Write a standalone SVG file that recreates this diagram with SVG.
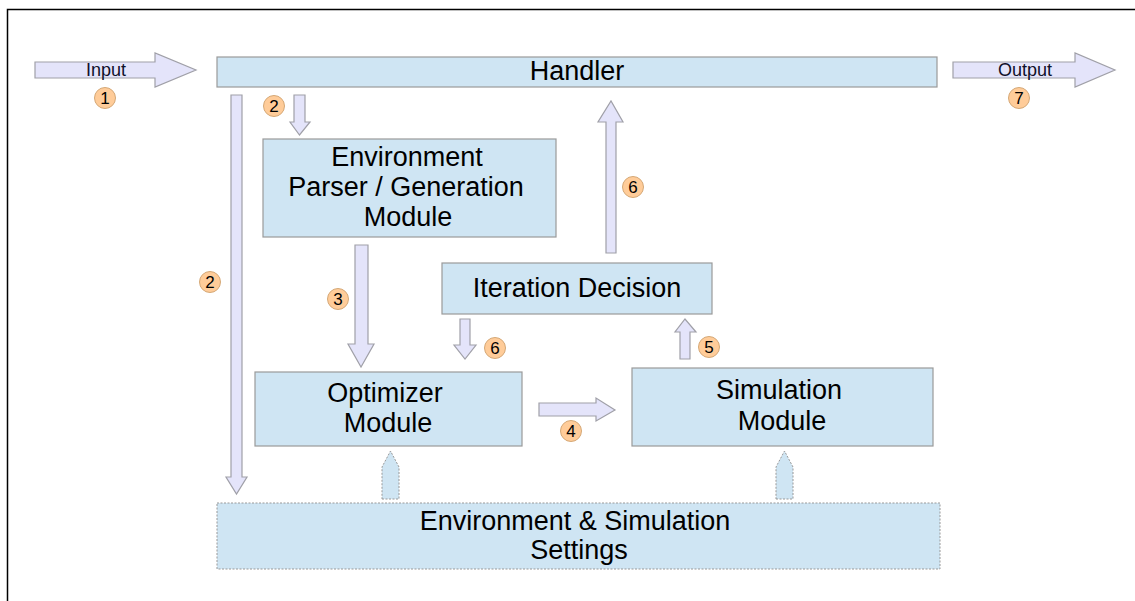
<svg xmlns="http://www.w3.org/2000/svg" width="1135" height="601" viewBox="0 0 1135 601">
<style>
.box{fill:#cfe5f3;stroke:#9a9a9a;stroke-width:1.2}
.dbox{fill:#cfe5f3;stroke:#999;stroke-width:1;stroke-dasharray:2 1.5}
.arr{fill:#e4e4fa;stroke:#a0a0a8;stroke-width:1.2}
.t{font-family:"Liberation Sans",Arial,sans-serif;font-size:27px;fill:#000;text-anchor:middle}
.s{font-family:"Liberation Sans",Arial,sans-serif;font-size:18px;fill:#10102a;text-anchor:middle}
.num circle{fill:#ffcc99;stroke:#d5a876;stroke-width:1}
.num text{font-family:"Liberation Sans",Arial,sans-serif;font-size:17px;fill:#000;text-anchor:middle}
</style>
<rect x="0" y="0" width="1135" height="601" fill="#fff"/>
<path d="M7.5 601 V9.5 H1135" fill="none" stroke="#000" stroke-width="1.5"/>

<g id="connectors">
  <polygon class="arr" points="35,62 155,62 155,53 196,70 155,87 155,78 35,78"/>
  <text class="s" x="106" y="76">Input</text>
  <polygon class="arr" points="953,62 1075,62 1075,53 1115,70 1075,87 1075,78 953,78"/>
  <text class="s" x="1025" y="76">Output</text>
  <polygon class="arr" points="231,95 242,95 242,477 247,477 236.5,494 226,477 231,477"/>
  <polygon class="arr" points="294,95 305,95 305,122 310,122 299.5,135 290,122 294,122"/>
  <polygon class="arr" points="355,245 368,245 368,344 374,344 361,367 348,344 355,344"/>
  <polygon class="arr" points="460,319 470,319 470,345 476,345 465,359 454,345 460,345"/>
  <polygon class="arr" points="539,403 596,403 596,398 615,410 596,421 596,416 539,416"/>
  <polygon class="arr" points="680,359 690,359 690,332 696,332 685,319 675,332 680,332"/>
  <polygon class="arr" points="606,253 616,253 616,122 623,122 611,101 598,122 606,122"/>
  <polygon class="dbox" points="382,499 399,499 399,467 390.5,451 382,467"/>
  <polygon class="dbox" points="776,499 793,499 793,467 784.5,451 776,467"/>
  <g class="num"><circle cx="105" cy="98" r="10.5"/><text x="105" y="104">1</text></g>
  <g class="num"><circle cx="274" cy="106" r="10.5"/><text x="274" y="112">2</text></g>
  <g class="num"><circle cx="210" cy="282" r="10.5"/><text x="210" y="288">2</text></g>
  <g class="num"><circle cx="338" cy="299" r="10.5"/><text x="338" y="305">3</text></g>
  <g class="num"><circle cx="571" cy="431" r="10.5"/><text x="571" y="437">4</text></g>
  <g class="num"><circle cx="709" cy="347" r="10.5"/><text x="709" y="353">5</text></g>
  <g class="num"><circle cx="495" cy="348" r="10.5"/><text x="495" y="354">6</text></g>
  <g class="num"><circle cx="633" cy="187" r="10.5"/><text x="633" y="193">6</text></g>
  <g class="num"><circle cx="1019" cy="98" r="10.5"/><text x="1019" y="104">7</text></g>
</g>

<g id="handler">
  <rect class="box" x="217" y="57" width="720" height="30"/>
  <text class="t" x="577" y="80">Handler</text>
</g>
<g id="env-parser">
  <rect class="box" x="263" y="139" width="293" height="98"/>
  <text class="t" x="407" y="166">Environment</text>
  <text class="t" x="406" y="196">Parser / Generation</text>
  <text class="t" x="408" y="226">Module</text>
</g>
<g id="iteration">
  <rect class="box" x="442" y="263" width="270" height="51"/>
  <text class="t" x="577" y="297">Iteration Decision</text>
</g>
<g id="optimizer">
  <rect class="box" x="255" y="372" width="267" height="74"/>
  <text class="t" x="385" y="402">Optimizer</text>
  <text class="t" x="388" y="432">Module</text>
</g>
<g id="simulation">
  <rect class="box" x="632" y="368" width="301" height="78"/>
  <text class="t" x="779" y="399">Simulation</text>
  <text class="t" x="782" y="430">Module</text>
</g>
<g id="settings">
  <rect class="dbox" x="217" y="503" width="723" height="66"/>
  <text class="t" x="575" y="530">Environment &amp; Simulation</text>
  <text class="t" x="579" y="559">Settings</text>
</g>
</svg>
